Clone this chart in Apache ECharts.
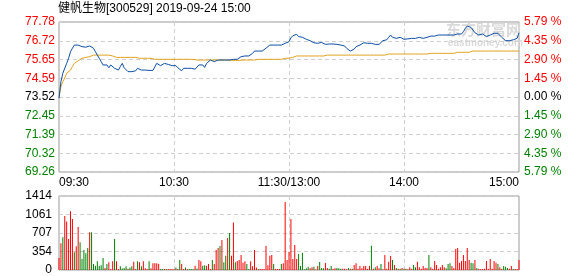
<!DOCTYPE html>
<html><head><meta charset="utf-8">
<script src="https://cdn.jsdelivr.net/npm/echarts@6/dist/echarts.min.js"></script>
<style>html,body{margin:0;padding:0;background:#fff}#c{width:578px;height:276px}</style>
</head><body><div id="c"></div>
<script>
const chartTitle = '健帆生物[300529] 2019-09-24 15:00';
const preClose = 73.52;
const axisBase = 69.26;
const axisStep = 1.065;
const priceLabels = ['69.26','70.32','71.39','72.45','73.52','74.59','75.65','76.72','77.78'];
const pctLabels = ['5.79 %','4.35 %','2.90 %','1.45 %','0.00 %','1.45 %','2.90 %','4.35 %','5.79 %'];
const volLabels = ['0','354','707','1061','1414'];
const volMax = 1414;
const timeLabels = {0:'09:30',60:'10:30',120:'11:30/13:00',180:'14:00',240:'15:00'};

const price = [
73.45,74.39,74.87,74.98,75.43,75.72,76.09,76.29,76.47,76.38,
76.47,76.57,76.38,76.35,76.35,76.35,76.42,76.42,76.29,76.09,
75.90,75.72,75.53,75.34,75.25,75.34,75.18,75.34,75.43,75.15,
75.10,75.05,75.25,75.43,75.18,75.15,74.96,75.03,74.96,74.90,
75.01,75.15,75.05,75.05,75.05,75.05,75.05,75.03,75.03,75.03,
75.03,75.43,75.43,75.30,75.20,75.43,75.37,75.37,75.37,75.30,
75.30,75.30,75.18,75.10,75.01,75.15,75.15,75.15,75.15,75.15,
75.15,75.10,75.10,75.34,75.43,75.34,75.20,75.43,75.53,75.62,
75.58,75.53,75.62,75.62,75.62,75.62,75.62,75.62,75.62,75.62,
75.66,75.66,75.66,75.66,75.66,75.81,75.85,75.85,75.85,75.85,
75.90,76.00,76.13,76.13,76.13,76.13,76.13,76.20,76.29,76.38,
76.47,76.47,76.47,76.47,76.47,76.47,76.47,76.53,76.57,76.60,
76.66,76.88,77.00,77.08,77.08,76.95,76.91,76.91,76.85,76.80,
76.80,76.72,76.72,76.60,76.60,76.57,76.62,76.62,76.57,76.51,
76.60,76.53,76.57,76.53,76.47,76.51,76.51,76.47,76.38,76.42,
76.29,76.24,76.13,76.24,76.24,76.38,76.47,76.47,76.53,76.60,
76.60,76.57,76.57,76.57,76.51,76.51,76.51,76.51,76.60,76.72,
76.77,76.77,76.91,77.04,76.91,76.95,76.85,76.91,76.91,76.85,
76.80,76.82,76.82,76.82,76.85,76.85,76.85,76.85,76.91,76.91,
76.85,76.91,76.91,76.98,76.98,76.98,76.98,76.98,77.04,77.04,
77.04,77.04,77.04,76.98,77.04,77.04,77.04,77.10,77.10,77.14,
77.10,77.23,77.42,77.55,77.61,77.47,77.32,77.17,77.10,77.04,
77.14,77.10,77.04,76.95,76.89,77.04,77.14,77.14,77.14,77.14,
77.08,76.91,76.80,76.72,76.72,76.72,76.72,76.77,76.80,76.85,77.17
];

const avgPrice = [
73.52,74.10,74.39,74.60,74.87,74.96,75.05,75.25,75.43,75.53,
75.58,75.66,75.72,75.77,75.77,75.81,75.81,75.85,75.90,75.90,
75.90,75.90,75.90,75.90,75.90,75.90,75.90,75.85,75.85,75.85,
75.77,75.77,75.77,75.77,75.77,75.77,75.77,75.77,75.77,75.77,
75.77,75.72,75.72,75.72,75.72,75.72,75.72,75.72,75.72,75.72,
75.66,75.66,75.66,75.66,75.66,75.66,75.66,75.66,75.66,75.66,
75.66,75.66,75.66,75.66,75.66,75.66,75.66,75.66,75.66,75.66,
75.66,75.62,75.62,75.62,75.62,75.62,75.62,75.62,75.62,75.62,
75.62,75.62,75.62,75.62,75.62,75.62,75.62,75.62,75.62,75.62,
75.60,75.60,75.60,75.60,75.60,75.62,75.62,75.62,75.62,75.62,
75.62,75.62,75.62,75.62,75.66,75.66,75.66,75.66,75.66,75.66,
75.66,75.66,75.66,75.66,75.66,75.66,75.66,75.66,75.72,75.72,
75.72,75.77,75.77,75.77,75.85,75.85,75.85,75.85,75.85,75.85,
75.85,75.85,75.85,75.85,75.85,75.85,75.85,75.85,75.85,75.90,
75.90,75.90,75.90,75.90,75.90,75.90,75.90,75.90,75.90,75.90,
75.90,75.90,75.90,75.90,75.90,75.90,75.90,75.90,75.90,75.90,
75.90,75.90,75.90,75.90,75.90,75.90,75.90,75.90,75.90,75.90,
75.90,75.90,75.96,75.96,75.96,75.96,75.96,75.96,75.96,75.96,
75.96,75.96,75.96,75.96,75.96,75.96,75.96,75.96,75.96,75.96,
75.96,75.96,75.96,76.00,76.00,76.00,76.00,76.00,76.00,76.00,
76.00,76.00,76.00,76.00,76.00,76.00,76.00,76.00,76.06,76.06,
76.06,76.06,76.06,76.06,76.06,76.06,76.13,76.13,76.13,76.13,
76.13,76.13,76.13,76.13,76.13,76.13,76.13,76.13,76.13,76.13,
76.13,76.13,76.13,76.13,76.13,76.13,76.13,76.13,76.13,76.13,76.13
];

const volume = [
229,510,624,1031,929,592,1121,974,338,452,
821,529,210,382,319,420,720,720,115,83,
166,83,90,229,38,115,147,20,166,592,
166,20,70,30,40,70,25,50,70,160,
20,166,150,70,166,35,20,166,35,130,
130,130,115,20,20,20,20,20,20,20,
20,50,20,190,115,20,50,20,20,20,
20,80,30,190,166,80,90,80,115,20,
190,115,382,420,458,573,150,273,611,707,
273,910,150,170,190,286,140,166,115,20,
166,70,382,50,20,20,20,20,458,90,
273,286,115,20,20,20,115,130,1299,191,
350,974,210,478,210,306,76,331,13,32,
64,32,51,64,13,76,153,38,32,134,
38,25,76,25,32,38,32,25,25,25,
13,38,25,25,95,127,25,76,32,76,
76,25,76,465,25,51,76,32,115,13,
287,25,159,268,191,95,38,25,25,38,
25,25,13,51,25,95,51,159,51,25,
76,38,38,287,51,25,172,95,25,51,
95,51,32,115,127,76,38,401,420,140,
172,287,172,420,191,140,127,191,38,19,
19,19,25,172,25,210,25,172,140,115,
51,25,76,64,38,25,76,20,20,20,191
];

const volUp = [
1,1,0,1,1,1,1,1,0,1,
1,0,0,0,0,0,1,0,0,0,
0,0,0,0,1,0,1,1,1,0,
1,1,0,0,0,0,1,0,0,1,
1,0,1,0,1,1,1,0,1,1,
1,1,1,0,0,1,0,1,1,1,
1,0,1,0,1,1,0,1,0,0,
0,1,0,1,1,0,0,1,1,1,
0,1,1,1,0,1,0,0,1,0,
1,1,0,1,1,1,1,1,0,0,
1,1,1,1,0,1,1,1,1,1,
1,1,0,1,1,1,0,1,1,1,
1,1,1,1,1,0,0,0,0,0,
0,1,1,0,1,1,0,0,0,1,
1,0,0,1,1,0,0,0,1,1,
1,0,1,0,1,1,1,1,1,1,
1,1,1,0,1,0,1,1,0,1,
1,1,1,1,0,1,0,1,0,1,
0,1,0,1,1,0,0,1,1,1,
1,1,1,0,1,1,1,1,1,1,
1,1,0,0,0,1,1,1,1,1,
1,1,1,1,1,0,0,1,0,1,
1,1,1,1,1,1,1,1,1,0,
1,1,0,0,0,1,1,0,1,1,1
];

// minute categories
const minutes = [];
function pad(n){return (n<10?'0':'')+n;}
for (let m = 9*60+30; m <= 11*60+30; m++) minutes.push(pad(Math.floor(m/60))+':'+pad(m%60));
for (let m = 13*60+1; m <= 15*60; m++) minutes.push(pad(Math.floor(m/60))+':'+pad(m%60));

const FONT = '"Liberation Sans", Arial, sans-serif';
const RED = '#ff0000', GREEN = '#008000', BLACK = '#000000';
const labelRich = {
  r: {color: RED, fontSize: 12, fontFamily: FONT},
  g: {color: GREEN, fontSize: 12, fontFamily: FONT},
  k: {color: BLACK, fontSize: 12, fontFamily: FONT}
};
function tierKey(i){ return i > 4 ? 'r' : (i < 4 ? 'g' : 'k'); }
const splitX = (i) => i === 60 || i === 120 || i === 180;
const dashed = {color: '#cfcfcf', type: [4, 3], width: 1};

const chart = echarts.init(document.getElementById('c'), null, {renderer: 'canvas'});
chart.setOption({
  animation: false,
  backgroundColor: '#fff',
  title: {
    text: chartTitle, left: 58, top: 3, padding: 0,
    textStyle: {fontSize: 12, fontWeight: 'normal', color: '#000', fontFamily: '"Liberation Sans", "Noto Sans CJK SC", sans-serif'}
  },
  graphic: [
    {type: 'text', left: 446, top: 22, z: 0, style: {text: '东方财富网', font: 'bold 15px "Noto Sans CJK SC"', fill: '#d9d9d9'}},
    {type: 'text', left: 448, top: 38, z: 0, style: {text: 'eastmoney.com', font: 'bold 10px "Liberation Sans"', fill: '#d9d9d9'}}
  ],
  grid: [
    {left: 59, top: 22, width: 460, height: 150, show: true, borderColor: '#999', borderWidth: 1, backgroundColor: 'transparent'},
    {left: 59, top: 196, width: 460, height: 74, show: true, borderColor: '#999', borderWidth: 1, backgroundColor: 'transparent'}
  ],
  xAxis: [
    {
      type: 'category', gridIndex: 0, data: minutes, boundaryGap: false,
      axisLine: {show: false}, axisTick: {show: false},
      axisLabel: {
        interval: (i) => timeLabels[i] !== undefined,
        formatter: (v, i) => timeLabels[i] || '',
        color: '#000', fontSize: 12, fontFamily: FONT, margin: 5,
        alignMinLabel: 'left', alignMaxLabel: 'right', showMinLabel: true, showMaxLabel: true
      },
      splitLine: {show: true, interval: splitX, lineStyle: dashed}
    },
    {
      type: 'category', gridIndex: 1, data: minutes, boundaryGap: false,
      axisLine: {show: false}, axisTick: {show: false}, axisLabel: {show: false},
      splitLine: {show: true, interval: splitX, lineStyle: dashed}
    }
  ],
  yAxis: [
    {
      type: 'value', gridIndex: 0, position: 'left', min: 0, max: 8.52, interval: axisStep,
      axisLine: {show: false}, axisTick: {show: false},
      axisLabel: {
        margin: 4, rich: labelRich,
        formatter: (v) => { const i = Math.round(v / axisStep); return '{' + tierKey(i) + '|' + priceLabels[i] + '}'; }
      },
      splitLine: {show: true, lineStyle: dashed}
    },
    {
      type: 'value', gridIndex: 0, position: 'right', min: 0, max: 8.52, interval: axisStep,
      axisLine: {show: false}, axisTick: {show: false},
      axisLabel: {
        margin: 5, rich: labelRich,
        formatter: (v) => { const i = Math.round(v / axisStep); return '{' + tierKey(i) + '|' + pctLabels[8 - i] + '}'; }
      },
      splitLine: {show: false}
    },
    {
      type: 'value', gridIndex: 1, min: 0, max: volMax, interval: volMax / 4,
      axisLine: {show: false}, axisTick: {show: false},
      axisLabel: {
        margin: 7, color: '#000', fontSize: 12, fontFamily: FONT,
        formatter: (v) => volLabels[Math.round(v / (volMax / 4))]
      },
      splitLine: {show: true, lineStyle: dashed}
    }
  ],
  series: [
    {
      name: 'avg', type: 'line', xAxisIndex: 0, yAxisIndex: 0, z: 3,
      data: avgPrice.map(p => +(p - axisBase).toFixed(4)),
      showSymbol: false, symbol: 'none', lineStyle: {color: '#e0a21c', width: 1}
    },
    {
      name: 'price', type: 'line', xAxisIndex: 0, yAxisIndex: 0, z: 4,
      data: price.map(p => +(p - axisBase).toFixed(4)),
      showSymbol: false, symbol: 'none', lineStyle: {color: '#0b4ea2', width: 1}
    },
    {
      name: 'vol', type: 'bar', xAxisIndex: 1, yAxisIndex: 2, barWidth: 1,
      data: volume,
      itemStyle: {color: (p) => volUp[p.dataIndex] ? RED : GREEN}
    }
  ]
});
</script></body></html>
